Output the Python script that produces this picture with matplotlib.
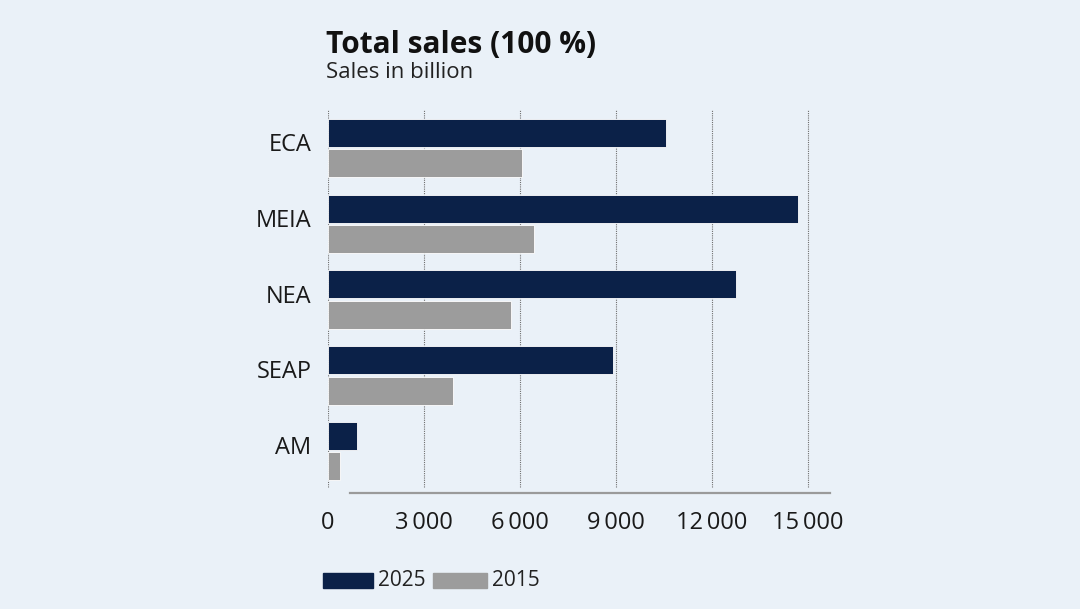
import matplotlib
matplotlib.use("Agg")
from matplotlib import pyplot as plt
from matplotlib.patches import Rectangle
from matplotlib.transforms import ScaledTranslation

plt.rcParams['font.family'] = ['Open Sans', 'DejaVu Sans']

# data
regions = ["ECA", "MEIA", "NEA", "SEAP", "AM"]
sales_2025 = [10550, 14700, 12750, 8900, 900]
sales_2015 = [6050, 6450, 5720, 3920, 380]
x_ticks = [0, 3000, 6000, 9000, 12000, 15000]
x_tick_labels = ["0", "3\u2009000", "6\u2009000", "9\u2009000", "12\u2009000", "15\u2009000"]

bg = "#EAF1F8"
navy = "#0B2148"
grey = "#9C9C9C"

fig = plt.figure(figsize=(10.8, 6.09), dpi=100, facecolor=bg)
W, H = 1080, 609
# axes: left at x=0 position, from top 110px to bottom 493px
ax = fig.add_axes([328 / W, 1 - 493 / H, (830 - 328) / W, (493 - 110) / H])
ax.set_facecolor(bg)

pos = list(range(len(regions)))
h = 0.37
ax.barh([p - 0.2 for p in pos], sales_2025, height=h, color=navy,
        edgecolor="white", linewidth=0.6, zorder=3)
ax.barh([p + 0.2 for p in pos], sales_2015, height=h, color=grey,
        edgecolor="white", linewidth=0.6, zorder=3)

ax.set_xlim(0, 15690)
ax.set_ylim(4.55, -0.5)

# dotted vertical grid lines
ax.vlines(x_ticks, 0.015, 1, transform=ax.get_xaxis_transform(),
          colors="#6f6f6f", linestyles=(0, (1, 1)), linewidth=0.8, zorder=1)
# baseline
ax.axhline(4.55, xmin=(350 - 328) / (830 - 328), xmax=1, color="#9a9a9a",
           linewidth=1.6, clip_on=False, zorder=2)

for s in ax.spines.values():
    s.set_visible(False)
ax.set_yticks(pos)
ax.set_yticklabels(regions, fontsize=17, color="#1a1a1a")
ax.set_xticks(x_ticks)
ax.set_xticklabels(x_tick_labels, fontsize=17, color="#1a1a1a")
ax.tick_params(axis="both", length=0)
ax.tick_params(axis="y", pad=12)
ax.tick_params(axis="x", pad=13)
shift = ScaledTranslation(0, 6 / 100, fig.dpi_scale_trans)
for lab in ax.get_yticklabels():
    lab.set_transform(lab.get_transform() + shift)

fig.text(326 / W, 1 - 45 / H, "Total sales (100 %)", fontsize=21.5, fontweight="bold",
         color="#111111", va="center", ha="left")
fig.text(326 / W, 1 - 73 / H, "Sales in billion", fontsize=16,
         color="#222222", va="center", ha="left")

# legend
leg_y = 1 - 580 / H
ph = 15 / H
fig.patches.append(Rectangle((323 / W, leg_y - ph / 2), 50 / W, ph,
                             transform=fig.transFigure, color=navy))
fig.text(378 / W, leg_y, "2025", fontsize=15, color="#222222", va="center")
fig.patches.append(Rectangle((433 / W, leg_y - ph / 2), 54 / W, ph,
                             transform=fig.transFigure, color=grey))
fig.text(492 / W, leg_y, "2015", fontsize=15, color="#222222", va="center")

fig.savefig("out.png", dpi=100, facecolor=bg)
